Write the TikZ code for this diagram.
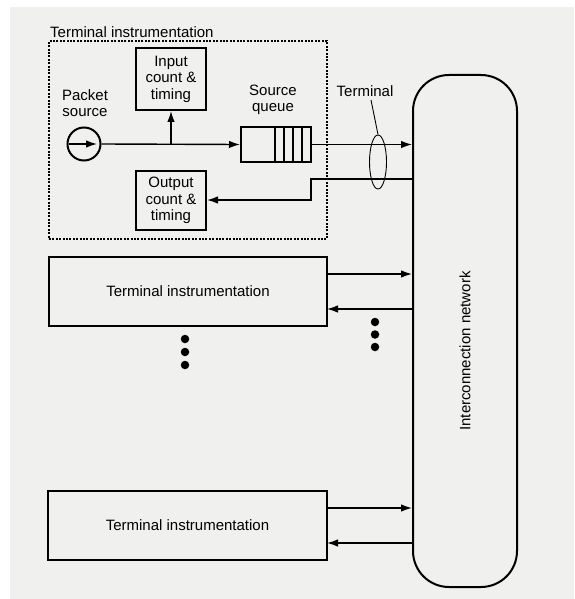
\documentclass[tikz,border=0pt]{standalone}
\usepackage{fontspec}
\setmainfont{Liberation Sans}
\usetikzlibrary{arrows.meta,shapes.geometric}
\definecolor{paper}{HTML}{F0F0EF}
\tikzset{
  lbl/.style={font=\fontsize{15}{16.5}\selectfont, align=center, inner sep=0pt},
  boxnode/.style={draw, line width=2pt, inner sep=0pt, font=\fontsize{15}{16.5}\selectfont, align=center},
  conn/.style={line width=1.4pt, -{Latex[length=11pt,width=7.5pt]}},
  dotmark/.style={circle, fill=black, inner sep=0pt, minimum size=8.5pt},
}
\begin{document}
\begin{tikzpicture}[x=1pt,y=-1pt]
\useasboundingbox (0,0) rectangle (574,599);
\fill[white] (0,0) rectangle (574,599);
\fill[paper] (10,7) rectangle (574,599);

% top terminal instrumentation (dashed)
\node[lbl, anchor=west] (ttitle) at (50,32) {Terminal instrumentation};
\node[draw, line width=1.3pt, dash pattern=on 2pt off 1.4pt, minimum width=278pt, minimum height=198pt, inner sep=0pt] (dbox) at (188,140) {};

\node[boxnode, minimum width=70pt, minimum height=62pt] (inbox) at (171,79) {Input\\count \&\\timing};
\node[boxnode, minimum width=70pt, minimum height=59pt] (outbox) at (171,200.5) {Output\\count \&\\timing};

\node[lbl] (pstext) at (85,103) {Packet\\source};
\node[draw, circle, line width=2pt, minimum size=33pt, inner sep=0pt] (src) at (84,144) {};
\coordinate (srcin) at (69,144);
\coordinate (srctip) at (97,144);

\node[lbl] (sqtext) at (273,100) {Source\\queue};
\node[boxnode, minimum width=70pt, minimum height=35pt] (queue) at (276,144.5) {};
\foreach \xx in {275,284,293,302} \draw[line width=1.6pt] (\xx,127) -- (\xx,162);

% network
\node[draw, line width=2pt, rounded corners=36pt, minimum width=104pt, minimum height=512pt, inner sep=0pt] (net) at (465,331) {};
\node[lbl, rotate=90] (nettext) at (465,351) {Interconnection network};

% terminal label and ellipse
\node[lbl] (termtext) at (365,91) {Terminal};
\node[draw, ellipse, line width=0.9pt, minimum width=17pt, minimum height=54pt, inner sep=0pt] (tell) at (378,162) {};
\draw[line width=0.9pt] (371,100) -- (tell.north);

% connectors of top terminal
\draw[conn] (srcin) -- (srctip);
\draw[conn] (src.east) -- (queue.west);
\coordinate (branch) at (171,144);
\draw[conn] (branch) -- (inbox.south);
\draw[conn] (queue.east) -- (queue.east -| net.west);
\coordinate (r1) at (311,179);
\coordinate (r2) at (311,200);
\draw[conn] (r1 -| net.west) -- (r1) -- (r2) -- (outbox.east |- r2);

% second terminal
\node[boxnode, minimum width=278pt, minimum height=69pt] (t2) at (188,291.5) {Terminal instrumentation};
\coordinate (t2o) at (327,274);
\coordinate (t2i) at (327,309);
\draw[conn] (t2o) -- (t2o -| net.west);
\draw[conn] (t2i -| net.west) -- (t2i);

% third terminal
\node[boxnode, minimum width=279pt, minimum height=69pt] (t3) at (187.5,525.5) {Terminal instrumentation};
\coordinate (t3o) at (327,508);
\coordinate (t3i) at (327,543);
\draw[conn] (t3o) -- (t3o -| net.west);
\draw[conn] (t3i -| net.west) -- (t3i);

% ellipsis dots
\foreach \yy [count=\i] in {322,334.5,347} \node[dotmark] (da\i) at (375,\yy) {};
\foreach \yy [count=\i] in {339,352,365} \node[dotmark] (db\i) at (185,\yy) {};
\end{tikzpicture}
\end{document}
